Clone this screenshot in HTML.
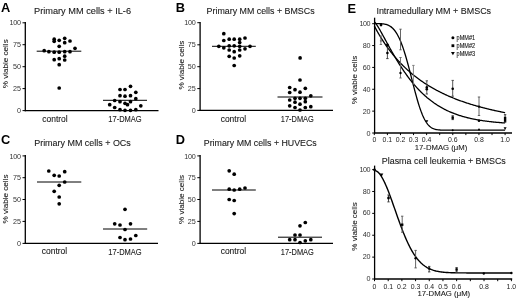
<!DOCTYPE html>
<html><head><meta charset="utf-8"><style>
html,body{margin:0;padding:0;background:#fff;width:520px;height:299px;overflow:hidden}
svg{display:block;will-change:transform;filter:blur(0.3px)}
text{font-family:"Liberation Sans", sans-serif} .s{stroke:#222;stroke-width:0.25px} .s2{stroke:#222;stroke-width:0.2px} .s3{stroke:#1a1a1a;stroke-width:0.1px}
</style></head><body>
<svg width="520" height="299" viewBox="0 0 520 299">
<rect width="520" height="299" fill="#fff"/>
<text x="0.90" y="12.40" font-size="12.8" text-anchor="start" fill="#000" font-weight="bold">A</text>
<text x="34.00" y="14.20" font-size="8.8" text-anchor="start" fill="#1a1a1a" class="s3" textLength="97" lengthAdjust="spacingAndGlyphs">Primary MM cells + IL-6</text>
<line x1="25.30" y1="22.00" x2="25.30" y2="111.20" stroke="#000" stroke-width="1.3"/>
<line x1="24.70" y1="110.60" x2="158.50" y2="110.60" stroke="#000" stroke-width="1.3"/>
<line x1="22.50" y1="22.80" x2="25.30" y2="22.80" stroke="#000" stroke-width="1.0"/>
<text x="20.90" y="25.40" font-size="7.2" text-anchor="end" fill="#333" textLength="11.4" lengthAdjust="spacing">100</text>
<line x1="22.50" y1="44.70" x2="25.30" y2="44.70" stroke="#000" stroke-width="1.0"/>
<text x="20.90" y="47.30" font-size="7.2" text-anchor="end" fill="#333" textLength="7.9" lengthAdjust="spacing">75</text>
<line x1="22.50" y1="66.70" x2="25.30" y2="66.70" stroke="#000" stroke-width="1.0"/>
<text x="20.90" y="69.30" font-size="7.2" text-anchor="end" fill="#333" textLength="7.9" lengthAdjust="spacing">50</text>
<line x1="22.50" y1="88.60" x2="25.30" y2="88.60" stroke="#000" stroke-width="1.0"/>
<text x="20.90" y="91.20" font-size="7.2" text-anchor="end" fill="#333" textLength="7.9" lengthAdjust="spacing">25</text>
<line x1="22.50" y1="110.60" x2="25.30" y2="110.60" stroke="#000" stroke-width="1.0"/>
<text x="20.90" y="113.20" font-size="7.2" text-anchor="end" fill="#333" textLength="3.9" lengthAdjust="spacing">0</text>
<text x="7.70" y="63.80" font-size="7.8" text-anchor="middle" fill="#222" class="s3" textLength="49" lengthAdjust="spacingAndGlyphs" transform="rotate(-90 7.70 63.80)">% viable cells</text>
<circle cx="54.20" cy="39.20" r="1.85" fill="#000"/>
<circle cx="54.20" cy="41.30" r="1.85" fill="#000"/>
<circle cx="59.20" cy="40.30" r="1.85" fill="#000"/>
<circle cx="64.70" cy="38.30" r="1.85" fill="#000"/>
<circle cx="64.70" cy="42.70" r="1.85" fill="#000"/>
<circle cx="70.00" cy="41.00" r="1.85" fill="#000"/>
<circle cx="59.20" cy="46.30" r="1.85" fill="#000"/>
<circle cx="75.00" cy="48.30" r="1.85" fill="#000"/>
<circle cx="44.20" cy="50.70" r="1.85" fill="#000"/>
<circle cx="48.90" cy="51.70" r="1.85" fill="#000"/>
<circle cx="54.20" cy="52.20" r="1.85" fill="#000"/>
<circle cx="59.20" cy="52.20" r="1.85" fill="#000"/>
<circle cx="64.70" cy="51.70" r="1.85" fill="#000"/>
<circle cx="70.00" cy="51.70" r="1.85" fill="#000"/>
<circle cx="64.70" cy="56.20" r="1.85" fill="#000"/>
<circle cx="54.20" cy="59.70" r="1.85" fill="#000"/>
<circle cx="59.20" cy="58.70" r="1.85" fill="#000"/>
<circle cx="64.70" cy="60.00" r="1.85" fill="#000"/>
<circle cx="59.20" cy="64.70" r="1.85" fill="#000"/>
<circle cx="59.20" cy="88.00" r="1.85" fill="#000"/>
<circle cx="130.50" cy="86.30" r="1.85" fill="#000"/>
<circle cx="120.00" cy="89.50" r="1.85" fill="#000"/>
<circle cx="125.00" cy="89.50" r="1.85" fill="#000"/>
<circle cx="135.80" cy="92.30" r="1.85" fill="#000"/>
<circle cx="120.00" cy="95.70" r="1.85" fill="#000"/>
<circle cx="125.00" cy="96.20" r="1.85" fill="#000"/>
<circle cx="130.50" cy="95.70" r="1.85" fill="#000"/>
<circle cx="135.80" cy="98.70" r="1.85" fill="#000"/>
<circle cx="114.70" cy="100.50" r="1.85" fill="#000"/>
<circle cx="120.00" cy="101.70" r="1.85" fill="#000"/>
<circle cx="125.00" cy="103.30" r="1.85" fill="#000"/>
<circle cx="130.50" cy="101.70" r="1.85" fill="#000"/>
<circle cx="127.50" cy="104.70" r="1.85" fill="#000"/>
<circle cx="109.70" cy="104.70" r="1.85" fill="#000"/>
<circle cx="140.80" cy="105.80" r="1.85" fill="#000"/>
<circle cx="114.70" cy="107.50" r="1.85" fill="#000"/>
<circle cx="120.00" cy="109.70" r="1.85" fill="#000"/>
<circle cx="125.00" cy="110.30" r="1.85" fill="#000"/>
<circle cx="130.50" cy="110.30" r="1.85" fill="#000"/>
<circle cx="135.80" cy="109.70" r="1.85" fill="#000"/>
<line x1="36.70" y1="51.20" x2="81.30" y2="51.20" stroke="#000" stroke-width="1.0"/>
<line x1="103.00" y1="100.30" x2="147.00" y2="100.30" stroke="#000" stroke-width="1.0"/>
<text x="55.00" y="122.10" font-size="8.6" text-anchor="middle" fill="#1a1a1a" class="s3" textLength="25.4" lengthAdjust="spacingAndGlyphs">control</text>
<text x="125.00" y="122.30" font-size="8.6" text-anchor="middle" fill="#1a1a1a" class="s3" textLength="33.4" lengthAdjust="spacingAndGlyphs">17-DMAG</text>
<text x="175.70" y="12.40" font-size="12.8" text-anchor="start" fill="#000" font-weight="bold">B</text>
<text x="206.60" y="14.20" font-size="8.8" text-anchor="start" fill="#1a1a1a" class="s3" textLength="108" lengthAdjust="spacingAndGlyphs">Primary MM cells + BMSCs</text>
<line x1="200.10" y1="21.90" x2="200.10" y2="111.00" stroke="#000" stroke-width="1.3"/>
<line x1="199.50" y1="110.40" x2="333.00" y2="110.40" stroke="#000" stroke-width="1.3"/>
<line x1="197.30" y1="22.70" x2="200.10" y2="22.70" stroke="#000" stroke-width="1.0"/>
<text x="195.70" y="25.30" font-size="7.2" text-anchor="end" fill="#333" textLength="11.4" lengthAdjust="spacing">100</text>
<line x1="197.30" y1="44.80" x2="200.10" y2="44.80" stroke="#000" stroke-width="1.0"/>
<text x="195.70" y="47.40" font-size="7.2" text-anchor="end" fill="#333" textLength="7.9" lengthAdjust="spacing">75</text>
<line x1="197.30" y1="66.70" x2="200.10" y2="66.70" stroke="#000" stroke-width="1.0"/>
<text x="195.70" y="69.30" font-size="7.2" text-anchor="end" fill="#333" textLength="7.9" lengthAdjust="spacing">50</text>
<line x1="197.30" y1="88.60" x2="200.10" y2="88.60" stroke="#000" stroke-width="1.0"/>
<text x="195.70" y="91.20" font-size="7.2" text-anchor="end" fill="#333" textLength="7.9" lengthAdjust="spacing">25</text>
<line x1="197.30" y1="110.40" x2="200.10" y2="110.40" stroke="#000" stroke-width="1.0"/>
<text x="195.70" y="113.00" font-size="7.2" text-anchor="end" fill="#333" textLength="3.9" lengthAdjust="spacing">0</text>
<text x="184.00" y="65.10" font-size="7.8" text-anchor="middle" fill="#222" class="s3" textLength="49" lengthAdjust="spacingAndGlyphs" transform="rotate(-90 184.00 65.10)">% viable cells</text>
<circle cx="223.80" cy="33.70" r="1.85" fill="#000"/>
<circle cx="223.80" cy="40.50" r="1.85" fill="#000"/>
<circle cx="229.20" cy="39.20" r="1.85" fill="#000"/>
<circle cx="234.20" cy="39.20" r="1.85" fill="#000"/>
<circle cx="239.70" cy="39.20" r="1.85" fill="#000"/>
<circle cx="245.00" cy="38.00" r="1.85" fill="#000"/>
<circle cx="239.70" cy="42.50" r="1.85" fill="#000"/>
<circle cx="218.80" cy="46.30" r="1.85" fill="#000"/>
<circle cx="223.80" cy="47.80" r="1.85" fill="#000"/>
<circle cx="229.20" cy="45.80" r="1.85" fill="#000"/>
<circle cx="234.20" cy="45.80" r="1.85" fill="#000"/>
<circle cx="239.70" cy="46.30" r="1.85" fill="#000"/>
<circle cx="245.00" cy="48.80" r="1.85" fill="#000"/>
<circle cx="250.00" cy="46.30" r="1.85" fill="#000"/>
<circle cx="229.20" cy="50.00" r="1.85" fill="#000"/>
<circle cx="234.20" cy="51.70" r="1.85" fill="#000"/>
<circle cx="239.70" cy="50.00" r="1.85" fill="#000"/>
<circle cx="229.20" cy="56.30" r="1.85" fill="#000"/>
<circle cx="234.20" cy="58.00" r="1.85" fill="#000"/>
<circle cx="239.70" cy="55.80" r="1.85" fill="#000"/>
<circle cx="234.20" cy="65.50" r="1.85" fill="#000"/>
<circle cx="300.10" cy="57.90" r="1.85" fill="#000"/>
<circle cx="300.00" cy="80.00" r="1.85" fill="#000"/>
<circle cx="289.70" cy="87.50" r="1.85" fill="#000"/>
<circle cx="295.00" cy="89.70" r="1.85" fill="#000"/>
<circle cx="305.30" cy="88.30" r="1.85" fill="#000"/>
<circle cx="289.70" cy="92.50" r="1.85" fill="#000"/>
<circle cx="300.00" cy="92.20" r="1.85" fill="#000"/>
<circle cx="310.80" cy="95.80" r="1.85" fill="#000"/>
<circle cx="295.00" cy="98.30" r="1.85" fill="#000"/>
<circle cx="300.00" cy="98.30" r="1.85" fill="#000"/>
<circle cx="305.30" cy="98.30" r="1.85" fill="#000"/>
<circle cx="289.70" cy="100.00" r="1.85" fill="#000"/>
<circle cx="295.00" cy="102.20" r="1.85" fill="#000"/>
<circle cx="305.30" cy="101.70" r="1.85" fill="#000"/>
<circle cx="300.00" cy="104.20" r="1.85" fill="#000"/>
<circle cx="289.70" cy="105.80" r="1.85" fill="#000"/>
<circle cx="295.00" cy="107.50" r="1.85" fill="#000"/>
<circle cx="305.30" cy="107.50" r="1.85" fill="#000"/>
<circle cx="310.80" cy="106.70" r="1.85" fill="#000"/>
<circle cx="300.00" cy="110.00" r="1.85" fill="#000"/>
<line x1="212.00" y1="46.30" x2="255.80" y2="46.30" stroke="#000" stroke-width="1.0"/>
<line x1="277.50" y1="97.00" x2="322.50" y2="97.00" stroke="#000" stroke-width="1.0"/>
<text x="233.40" y="121.70" font-size="8.6" text-anchor="middle" fill="#1a1a1a" class="s3" textLength="25.4" lengthAdjust="spacingAndGlyphs">control</text>
<text x="297.30" y="121.70" font-size="8.6" text-anchor="middle" fill="#1a1a1a" class="s3" textLength="33" lengthAdjust="spacingAndGlyphs">17-DMAG</text>
<text x="0.90" y="143.80" font-size="12.8" text-anchor="start" fill="#000" font-weight="bold">C</text>
<text x="34.20" y="145.60" font-size="8.8" text-anchor="start" fill="#1a1a1a" class="s3" textLength="96.6" lengthAdjust="spacingAndGlyphs">Primary MM cells + OCs</text>
<line x1="25.30" y1="155.10" x2="25.30" y2="244.00" stroke="#000" stroke-width="1.3"/>
<line x1="24.70" y1="243.40" x2="158.00" y2="243.40" stroke="#000" stroke-width="1.3"/>
<line x1="22.50" y1="155.90" x2="25.30" y2="155.90" stroke="#000" stroke-width="1.0"/>
<text x="20.90" y="158.50" font-size="7.2" text-anchor="end" fill="#333" textLength="11.4" lengthAdjust="spacing">100</text>
<line x1="22.50" y1="177.70" x2="25.30" y2="177.70" stroke="#000" stroke-width="1.0"/>
<text x="20.90" y="180.30" font-size="7.2" text-anchor="end" fill="#333" textLength="7.9" lengthAdjust="spacing">75</text>
<line x1="22.50" y1="199.50" x2="25.30" y2="199.50" stroke="#000" stroke-width="1.0"/>
<text x="20.90" y="202.10" font-size="7.2" text-anchor="end" fill="#333" textLength="7.9" lengthAdjust="spacing">50</text>
<line x1="22.50" y1="221.40" x2="25.30" y2="221.40" stroke="#000" stroke-width="1.0"/>
<text x="20.90" y="224.00" font-size="7.2" text-anchor="end" fill="#333" textLength="7.9" lengthAdjust="spacing">25</text>
<line x1="22.50" y1="243.40" x2="25.30" y2="243.40" stroke="#000" stroke-width="1.0"/>
<text x="20.90" y="246.00" font-size="7.2" text-anchor="end" fill="#333" textLength="3.9" lengthAdjust="spacing">0</text>
<text x="7.70" y="199.00" font-size="7.8" text-anchor="middle" fill="#222" class="s3" textLength="49" lengthAdjust="spacingAndGlyphs" transform="rotate(-90 7.70 199.00)">% viable cells</text>
<circle cx="48.80" cy="171.00" r="1.85" fill="#000"/>
<circle cx="54.20" cy="175.30" r="1.85" fill="#000"/>
<circle cx="59.20" cy="176.00" r="1.85" fill="#000"/>
<circle cx="64.70" cy="171.70" r="1.85" fill="#000"/>
<circle cx="64.70" cy="182.00" r="1.85" fill="#000"/>
<circle cx="59.20" cy="185.30" r="1.85" fill="#000"/>
<circle cx="54.20" cy="191.30" r="1.85" fill="#000"/>
<circle cx="59.20" cy="197.00" r="1.85" fill="#000"/>
<circle cx="59.20" cy="203.80" r="1.85" fill="#000"/>
<circle cx="125.00" cy="209.30" r="1.85" fill="#000"/>
<circle cx="114.70" cy="223.80" r="1.85" fill="#000"/>
<circle cx="120.00" cy="225.00" r="1.85" fill="#000"/>
<circle cx="130.50" cy="223.80" r="1.85" fill="#000"/>
<circle cx="125.00" cy="229.50" r="1.85" fill="#000"/>
<circle cx="120.00" cy="237.50" r="1.85" fill="#000"/>
<circle cx="125.00" cy="239.70" r="1.85" fill="#000"/>
<circle cx="130.50" cy="239.00" r="1.85" fill="#000"/>
<circle cx="135.80" cy="235.50" r="1.85" fill="#000"/>
<line x1="37.00" y1="182.00" x2="81.30" y2="182.00" stroke="#000" stroke-width="1.0"/>
<line x1="103.00" y1="229.00" x2="147.20" y2="229.00" stroke="#000" stroke-width="1.0"/>
<text x="54.50" y="253.80" font-size="8.6" text-anchor="middle" fill="#1a1a1a" class="s3" textLength="25.4" lengthAdjust="spacingAndGlyphs">control</text>
<text x="125.00" y="254.60" font-size="8.6" text-anchor="middle" fill="#1a1a1a" class="s3" textLength="33.4" lengthAdjust="spacingAndGlyphs">17-DMAG</text>
<text x="175.70" y="143.80" font-size="12.8" text-anchor="start" fill="#000" font-weight="bold">D</text>
<text x="203.80" y="145.60" font-size="8.8" text-anchor="start" fill="#1a1a1a" class="s3" textLength="113" lengthAdjust="spacingAndGlyphs">Primary MM cells + HUVECs</text>
<line x1="200.10" y1="155.10" x2="200.10" y2="244.00" stroke="#000" stroke-width="1.3"/>
<line x1="199.50" y1="243.40" x2="333.00" y2="243.40" stroke="#000" stroke-width="1.3"/>
<line x1="197.30" y1="155.90" x2="200.10" y2="155.90" stroke="#000" stroke-width="1.0"/>
<text x="195.70" y="158.50" font-size="7.2" text-anchor="end" fill="#333" textLength="11.4" lengthAdjust="spacing">100</text>
<line x1="197.30" y1="177.70" x2="200.10" y2="177.70" stroke="#000" stroke-width="1.0"/>
<text x="195.70" y="180.30" font-size="7.2" text-anchor="end" fill="#333" textLength="7.9" lengthAdjust="spacing">75</text>
<line x1="197.30" y1="199.50" x2="200.10" y2="199.50" stroke="#000" stroke-width="1.0"/>
<text x="195.70" y="202.10" font-size="7.2" text-anchor="end" fill="#333" textLength="7.9" lengthAdjust="spacing">50</text>
<line x1="197.30" y1="221.40" x2="200.10" y2="221.40" stroke="#000" stroke-width="1.0"/>
<text x="195.70" y="224.00" font-size="7.2" text-anchor="end" fill="#333" textLength="7.9" lengthAdjust="spacing">25</text>
<line x1="197.30" y1="243.40" x2="200.10" y2="243.40" stroke="#000" stroke-width="1.0"/>
<text x="195.70" y="246.00" font-size="7.2" text-anchor="end" fill="#333" textLength="3.9" lengthAdjust="spacing">0</text>
<text x="184.00" y="199.50" font-size="7.8" text-anchor="middle" fill="#222" class="s3" textLength="49" lengthAdjust="spacingAndGlyphs" transform="rotate(-90 184.00 199.50)">% viable cells</text>
<circle cx="229.20" cy="170.80" r="1.85" fill="#000"/>
<circle cx="234.20" cy="174.20" r="1.85" fill="#000"/>
<circle cx="229.20" cy="189.20" r="1.85" fill="#000"/>
<circle cx="234.20" cy="190.00" r="1.85" fill="#000"/>
<circle cx="239.70" cy="189.20" r="1.85" fill="#000"/>
<circle cx="245.00" cy="188.00" r="1.85" fill="#000"/>
<circle cx="229.20" cy="199.50" r="1.85" fill="#000"/>
<circle cx="234.20" cy="200.50" r="1.85" fill="#000"/>
<circle cx="234.20" cy="213.60" r="1.85" fill="#000"/>
<circle cx="305.30" cy="222.50" r="1.85" fill="#000"/>
<circle cx="300.00" cy="225.80" r="1.85" fill="#000"/>
<circle cx="295.00" cy="235.00" r="1.85" fill="#000"/>
<circle cx="300.00" cy="235.00" r="1.85" fill="#000"/>
<circle cx="289.70" cy="239.70" r="1.85" fill="#000"/>
<circle cx="295.00" cy="239.70" r="1.85" fill="#000"/>
<circle cx="305.30" cy="240.80" r="1.85" fill="#000"/>
<circle cx="310.80" cy="239.70" r="1.85" fill="#000"/>
<circle cx="300.00" cy="242.50" r="1.85" fill="#000"/>
<line x1="212.00" y1="190.00" x2="255.80" y2="190.00" stroke="#000" stroke-width="1.0"/>
<line x1="278.00" y1="237.20" x2="322.00" y2="237.20" stroke="#000" stroke-width="1.0"/>
<text x="233.40" y="253.50" font-size="8.6" text-anchor="middle" fill="#1a1a1a" class="s3" textLength="25.4" lengthAdjust="spacingAndGlyphs">control</text>
<text x="297.30" y="254.60" font-size="8.6" text-anchor="middle" fill="#1a1a1a" class="s3" textLength="33" lengthAdjust="spacingAndGlyphs">17-DMAG</text>
<text x="347.60" y="12.60" font-size="12.8" text-anchor="start" fill="#000" font-weight="bold">E</text>
<text x="376.40" y="13.90" font-size="8.8" text-anchor="start" fill="#1a1a1a" class="s3" textLength="114.7" lengthAdjust="spacingAndGlyphs">Intramedullary MM + BMSCs</text>
<line x1="374.60" y1="17.70" x2="374.60" y2="133.20" stroke="#000" stroke-width="1.3"/>
<line x1="374.00" y1="133.00" x2="512.00" y2="133.00" stroke="#000" stroke-width="1.3"/>
<line x1="372.20" y1="133.00" x2="374.60" y2="133.00" stroke="#000" stroke-width="1.0"/>
<text x="370.50" y="135.60" font-size="7.2" text-anchor="end" fill="#333" textLength="3.9" lengthAdjust="spacing">0</text>
<line x1="372.20" y1="111.14" x2="374.60" y2="111.14" stroke="#000" stroke-width="1.0"/>
<text x="370.50" y="113.74" font-size="7.2" text-anchor="end" fill="#333" textLength="7.7" lengthAdjust="spacing">20</text>
<line x1="372.20" y1="89.28" x2="374.60" y2="89.28" stroke="#000" stroke-width="1.0"/>
<text x="370.50" y="91.88" font-size="7.2" text-anchor="end" fill="#333" textLength="7.7" lengthAdjust="spacing">40</text>
<line x1="372.20" y1="67.42" x2="374.60" y2="67.42" stroke="#000" stroke-width="1.0"/>
<text x="370.50" y="70.02" font-size="7.2" text-anchor="end" fill="#333" textLength="7.7" lengthAdjust="spacing">60</text>
<line x1="372.20" y1="45.56" x2="374.60" y2="45.56" stroke="#000" stroke-width="1.0"/>
<text x="370.50" y="48.16" font-size="7.2" text-anchor="end" fill="#333" textLength="7.7" lengthAdjust="spacing">80</text>
<line x1="372.20" y1="23.70" x2="374.60" y2="23.70" stroke="#000" stroke-width="1.0"/>
<text x="370.50" y="26.30" font-size="7.2" text-anchor="end" fill="#333" textLength="10.9" lengthAdjust="spacing">100</text>
<line x1="374.30" y1="133.00" x2="374.30" y2="135.10" stroke="#000" stroke-width="1.0"/>
<line x1="387.38" y1="133.00" x2="387.38" y2="135.10" stroke="#000" stroke-width="1.0"/>
<line x1="400.46" y1="133.00" x2="400.46" y2="135.10" stroke="#000" stroke-width="1.0"/>
<line x1="413.54" y1="133.00" x2="413.54" y2="135.10" stroke="#000" stroke-width="1.0"/>
<line x1="426.62" y1="133.00" x2="426.62" y2="135.10" stroke="#000" stroke-width="1.0"/>
<line x1="439.70" y1="133.00" x2="439.70" y2="135.10" stroke="#000" stroke-width="1.0"/>
<line x1="452.78" y1="133.00" x2="452.78" y2="135.10" stroke="#000" stroke-width="1.0"/>
<line x1="465.86" y1="133.00" x2="465.86" y2="135.10" stroke="#000" stroke-width="1.0"/>
<line x1="478.94" y1="133.00" x2="478.94" y2="135.10" stroke="#000" stroke-width="1.0"/>
<line x1="492.02" y1="133.00" x2="492.02" y2="135.10" stroke="#000" stroke-width="1.0"/>
<line x1="505.10" y1="133.00" x2="505.10" y2="135.10" stroke="#000" stroke-width="1.0"/>
<text x="374.30" y="142.10" font-size="6.9" text-anchor="middle" fill="#222">0</text>
<text x="387.38" y="142.10" font-size="6.9" text-anchor="middle" fill="#222">0.1</text>
<text x="400.46" y="142.10" font-size="6.9" text-anchor="middle" fill="#222">0.2</text>
<text x="413.54" y="142.10" font-size="6.9" text-anchor="middle" fill="#222">0.3</text>
<text x="426.62" y="142.10" font-size="6.9" text-anchor="middle" fill="#222">0.4</text>
<text x="452.78" y="142.10" font-size="6.9" text-anchor="middle" fill="#222">0.6</text>
<text x="478.94" y="142.10" font-size="6.9" text-anchor="middle" fill="#222">0.8</text>
<text x="505.10" y="142.10" font-size="6.9" text-anchor="middle" fill="#222">1.0</text>
<text x="441.00" y="149.80" font-size="8.0" text-anchor="middle" fill="#1a1a1a" class="s3" textLength="52.5" lengthAdjust="spacingAndGlyphs">17-DMAG (μM)</text>
<text x="356.60" y="80.00" font-size="7.8" text-anchor="middle" fill="#222" class="s3" textLength="48.5" lengthAdjust="spacingAndGlyphs" transform="rotate(-90 356.60 80.00)">% viable cells</text>
<path d="M374.30,23.65 L374.96,23.65 L375.61,23.65 L376.27,23.66 L376.93,23.66 L377.59,23.66 L378.24,23.67 L378.90,23.67 L379.56,23.69 L380.22,23.71 L380.87,23.74 L381.53,23.77 L382.19,23.82 L382.84,23.88 L383.50,23.96 L384.16,24.06 L384.82,24.17 L385.47,24.31 L386.13,24.48 L386.79,24.67 L387.45,24.90 L388.10,25.16 L388.76,25.47 L389.42,25.81 L390.07,26.20 L390.73,26.64 L391.39,27.13 L392.05,27.68 L392.70,28.29 L393.36,28.96 L394.02,29.69 L394.68,30.50 L395.33,31.38 L395.99,32.34 L396.65,33.37 L397.31,34.49 L397.96,35.68 L398.62,36.97 L399.28,38.34 L399.93,39.80 L400.59,41.34 L401.25,42.97 L401.91,44.70 L402.56,46.50 L403.22,48.40 L403.88,50.37 L404.54,52.43 L405.19,54.56 L405.85,56.76 L406.51,59.04 L407.16,61.37 L407.82,63.76 L408.48,66.20 L409.14,68.69 L409.79,71.21 L410.45,73.75 L411.11,76.32 L411.77,78.89 L412.42,81.47 L413.08,84.03 L413.74,86.58 L414.39,89.11 L415.05,91.60 L415.71,94.04 L416.37,96.43 L417.02,98.76 L417.68,101.03 L418.34,103.22 L419.00,105.33 L419.65,107.35 L420.31,109.28 L420.97,111.12 L421.62,112.86 L422.28,114.50 L422.94,116.04 L423.60,117.48 L424.25,118.82 L424.91,120.06 L425.57,121.21 L426.23,122.25 L426.88,123.21 L427.54,124.08 L428.20,124.86 L428.85,125.57 L429.51,126.20 L430.17,126.76 L430.83,127.26 L431.48,127.69 L432.14,128.07 L432.80,128.41 L433.46,128.70 L434.11,128.95 L434.77,129.16 L435.43,129.34 L436.08,129.49 L436.74,129.62 L437.40,129.73 L438.06,129.82 L438.71,129.90 L439.37,129.96 L440.03,130.01 L440.69,130.05 L441.34,130.08 L442.00,130.11 L442.66,130.13 L443.32,130.14 L443.97,130.16 L444.63,130.17 L445.29,130.18 L445.94,130.18 L446.60,130.19 L447.26,130.19 L447.92,130.19 L448.57,130.20 L449.23,130.20 L449.89,130.20 L450.55,130.20 L451.20,130.20 L451.86,130.20 L452.52,130.20 L453.17,130.20 L453.83,130.20 L454.49,130.20 L455.15,130.20 L455.80,130.20 L456.46,130.20 L457.12,130.20 L457.78,130.20 L458.43,130.20 L459.09,130.20 L459.75,130.20 L460.40,130.20 L461.06,130.20 L461.72,130.20 L462.38,130.20 L463.03,130.20 L463.69,130.20 L464.35,130.20 L465.01,130.20 L465.66,130.20 L466.32,130.20 L466.98,130.20 L467.63,130.20 L468.29,130.20 L468.95,130.20 L469.61,130.20 L470.26,130.20 L470.92,130.20 L471.58,130.20 L472.24,130.20 L472.89,130.20 L473.55,130.20 L474.21,130.20 L474.86,130.20 L475.52,130.20 L476.18,130.20 L476.84,130.20 L477.49,130.20 L478.15,130.20 L478.81,130.20 L479.47,130.20 L480.12,130.20 L480.78,130.20 L481.44,130.20 L482.09,130.20 L482.75,130.20 L483.41,130.20 L484.07,130.20 L484.72,130.20 L485.38,130.20 L486.04,130.20 L486.70,130.20 L487.35,130.20 L488.01,130.20 L488.67,130.20 L489.33,130.20 L489.98,130.20 L490.64,130.20 L491.30,130.20 L491.95,130.20 L492.61,130.20 L493.27,130.20 L493.93,130.20 L494.58,130.20 L495.24,130.20 L495.90,130.20 L496.56,130.20 L497.21,130.20 L497.87,130.20 L498.53,130.20 L499.18,130.20 L499.84,130.20 L500.50,130.20 L501.16,130.20 L501.81,130.20 L502.47,130.20 L503.13,130.20 L503.79,130.20 L504.44,130.20 L505.10,130.20" fill="none" stroke="#000" stroke-width="1.3"/>
<path d="M374.30,25.79 L374.96,27.12 L375.61,28.39 L376.27,29.62 L376.93,30.83 L377.59,32.00 L378.24,33.16 L378.90,34.29 L379.56,35.41 L380.22,36.50 L380.87,37.57 L381.53,38.63 L382.19,39.67 L382.84,40.69 L383.50,41.70 L384.16,42.69 L384.82,43.66 L385.47,44.62 L386.13,45.57 L386.79,46.50 L387.45,47.41 L388.10,48.32 L388.76,49.20 L389.42,50.08 L390.07,50.94 L390.73,51.79 L391.39,52.63 L392.05,53.46 L392.70,54.27 L393.36,55.07 L394.02,55.87 L394.68,56.65 L395.33,57.42 L395.99,58.17 L396.65,58.92 L397.31,59.66 L397.96,60.39 L398.62,61.11 L399.28,61.81 L399.93,62.51 L400.59,63.20 L401.25,63.88 L401.91,64.55 L402.56,65.21 L403.22,65.87 L403.88,66.51 L404.54,67.15 L405.19,67.78 L405.85,68.39 L406.51,69.01 L407.16,69.61 L407.82,70.21 L408.48,70.79 L409.14,71.38 L409.79,71.95 L410.45,72.51 L411.11,73.07 L411.77,73.63 L412.42,74.17 L413.08,74.71 L413.74,75.24 L414.39,75.77 L415.05,76.28 L415.71,76.80 L416.37,77.30 L417.02,77.80 L417.68,78.30 L418.34,78.78 L419.00,79.27 L419.65,79.74 L420.31,80.21 L420.97,80.68 L421.62,81.13 L422.28,81.59 L422.94,82.04 L423.60,82.48 L424.25,82.92 L424.91,83.35 L425.57,83.78 L426.23,84.20 L426.88,84.62 L427.54,85.03 L428.20,85.44 L428.85,85.84 L429.51,86.24 L430.17,86.63 L430.83,87.02 L431.48,87.41 L432.14,87.79 L432.80,88.17 L433.46,88.54 L434.11,88.91 L434.77,89.27 L435.43,89.63 L436.08,89.98 L436.74,90.34 L437.40,90.68 L438.06,91.03 L438.71,91.37 L439.37,91.70 L440.03,92.04 L440.69,92.37 L441.34,92.69 L442.00,93.01 L442.66,93.33 L443.32,93.65 L443.97,93.96 L444.63,94.27 L445.29,94.57 L445.94,94.87 L446.60,95.17 L447.26,95.47 L447.92,95.76 L448.57,96.05 L449.23,96.34 L449.89,96.62 L450.55,96.90 L451.20,97.18 L451.86,97.45 L452.52,97.72 L453.17,97.99 L453.83,98.25 L454.49,98.52 L455.15,98.78 L455.80,99.04 L456.46,99.29 L457.12,99.54 L457.78,99.79 L458.43,100.04 L459.09,100.28 L459.75,100.53 L460.40,100.77 L461.06,101.00 L461.72,101.24 L462.38,101.47 L463.03,101.70 L463.69,101.93 L464.35,102.16 L465.01,102.38 L465.66,102.60 L466.32,102.82 L466.98,103.04 L467.63,103.25 L468.29,103.46 L468.95,103.67 L469.61,103.88 L470.26,104.09 L470.92,104.29 L471.58,104.50 L472.24,104.70 L472.89,104.89 L473.55,105.09 L474.21,105.29 L474.86,105.48 L475.52,105.67 L476.18,105.86 L476.84,106.05 L477.49,106.23 L478.15,106.42 L478.81,106.60 L479.47,106.78 L480.12,106.96 L480.78,107.13 L481.44,107.31 L482.09,107.48 L482.75,107.65 L483.41,107.83 L484.07,107.99 L484.72,108.16 L485.38,108.33 L486.04,108.49 L486.70,108.65 L487.35,108.82 L488.01,108.98 L488.67,109.13 L489.33,109.29 L489.98,109.45 L490.64,109.60 L491.30,109.75 L491.95,109.90 L492.61,110.05 L493.27,110.20 L493.93,110.35 L494.58,110.50 L495.24,110.64 L495.90,110.78 L496.56,110.93 L497.21,111.07 L497.87,111.21 L498.53,111.34 L499.18,111.48 L499.84,111.62 L500.50,111.75 L501.16,111.88 L501.81,112.02 L502.47,112.15 L503.13,112.28 L503.79,112.41 L504.44,112.53 L505.10,112.66" fill="none" stroke="#000" stroke-width="1.3"/>
<path d="M374.30,21.71 L374.96,22.32 L375.61,23.14 L376.27,24.06 L376.93,25.04 L377.59,26.08 L378.24,27.15 L378.90,28.26 L379.56,29.39 L380.22,30.53 L380.87,31.70 L381.53,32.88 L382.19,34.06 L382.84,35.26 L383.50,36.46 L384.16,37.66 L384.82,38.87 L385.47,40.08 L386.13,41.28 L386.79,42.49 L387.45,43.69 L388.10,44.89 L388.76,46.08 L389.42,47.27 L390.07,48.45 L390.73,49.63 L391.39,50.79 L392.05,51.95 L392.70,53.11 L393.36,54.25 L394.02,55.38 L394.68,56.51 L395.33,57.62 L395.99,58.73 L396.65,59.82 L397.31,60.90 L397.96,61.97 L398.62,63.04 L399.28,64.08 L399.93,65.12 L400.59,66.15 L401.25,67.16 L401.91,68.16 L402.56,69.16 L403.22,70.13 L403.88,71.10 L404.54,72.05 L405.19,73.00 L405.85,73.92 L406.51,74.84 L407.16,75.75 L407.82,76.64 L408.48,77.52 L409.14,78.39 L409.79,79.24 L410.45,80.09 L411.11,80.92 L411.77,81.74 L412.42,82.54 L413.08,83.34 L413.74,84.12 L414.39,84.89 L415.05,85.65 L415.71,86.40 L416.37,87.14 L417.02,87.86 L417.68,88.58 L418.34,89.28 L419.00,89.97 L419.65,90.65 L420.31,91.32 L420.97,91.97 L421.62,92.62 L422.28,93.26 L422.94,93.88 L423.60,94.50 L424.25,95.10 L424.91,95.70 L425.57,96.28 L426.23,96.85 L426.88,97.42 L427.54,97.97 L428.20,98.52 L428.85,99.05 L429.51,99.58 L430.17,100.09 L430.83,100.60 L431.48,101.10 L432.14,101.58 L432.80,102.06 L433.46,102.53 L434.11,103.00 L434.77,103.45 L435.43,103.90 L436.08,104.33 L436.74,104.76 L437.40,105.18 L438.06,105.60 L438.71,106.00 L439.37,106.40 L440.03,106.79 L440.69,107.17 L441.34,107.55 L442.00,107.92 L442.66,108.28 L443.32,108.63 L443.97,108.98 L444.63,109.32 L445.29,109.65 L445.94,109.98 L446.60,110.30 L447.26,110.62 L447.92,110.92 L448.57,111.23 L449.23,111.52 L449.89,111.81 L450.55,112.10 L451.20,112.38 L451.86,112.65 L452.52,112.92 L453.17,113.18 L453.83,113.43 L454.49,113.69 L455.15,113.93 L455.80,114.17 L456.46,114.41 L457.12,114.64 L457.78,114.87 L458.43,115.09 L459.09,115.31 L459.75,115.52 L460.40,115.73 L461.06,115.93 L461.72,116.13 L462.38,116.33 L463.03,116.52 L463.69,116.71 L464.35,116.89 L465.01,117.07 L465.66,117.24 L466.32,117.41 L466.98,117.58 L467.63,117.75 L468.29,117.91 L468.95,118.07 L469.61,118.22 L470.26,118.37 L470.92,118.52 L471.58,118.66 L472.24,118.80 L472.89,118.94 L473.55,119.08 L474.21,119.21 L474.86,119.34 L475.52,119.46 L476.18,119.59 L476.84,119.71 L477.49,119.82 L478.15,119.94 L478.81,120.05 L479.47,120.16 L480.12,120.27 L480.78,120.38 L481.44,120.48 L482.09,120.58 L482.75,120.68 L483.41,120.77 L484.07,120.87 L484.72,120.96 L485.38,121.05 L486.04,121.14 L486.70,121.22 L487.35,121.31 L488.01,121.39 L488.67,121.47 L489.33,121.55 L489.98,121.62 L490.64,121.70 L491.30,121.77 L491.95,121.84 L492.61,121.91 L493.27,121.98 L493.93,122.05 L494.58,122.11 L495.24,122.17 L495.90,122.24 L496.56,122.30 L497.21,122.35 L497.87,122.41 L498.53,122.47 L499.18,122.52 L499.84,122.58 L500.50,122.63 L501.16,122.68 L501.81,122.73 L502.47,122.78 L503.13,122.83 L503.79,122.87 L504.44,122.92 L505.10,122.96" fill="none" stroke="#000" stroke-width="1.3"/>
<line x1="380.90" y1="36.00" x2="380.90" y2="44.50" stroke="#666" stroke-width="0.9"/>
<line x1="379.70" y1="36.00" x2="382.10" y2="36.00" stroke="#666" stroke-width="0.9"/>
<line x1="379.70" y1="44.50" x2="382.10" y2="44.50" stroke="#666" stroke-width="0.9"/>
<line x1="387.40" y1="45.00" x2="387.40" y2="58.60" stroke="#333" stroke-width="0.9"/>
<line x1="386.20" y1="45.00" x2="388.60" y2="45.00" stroke="#333" stroke-width="0.9"/>
<line x1="386.20" y1="58.60" x2="388.60" y2="58.60" stroke="#333" stroke-width="0.9"/>
<line x1="400.50" y1="29.20" x2="400.50" y2="49.80" stroke="#555" stroke-width="0.9"/>
<line x1="399.30" y1="29.20" x2="401.70" y2="29.20" stroke="#555" stroke-width="0.9"/>
<line x1="399.30" y1="49.80" x2="401.70" y2="49.80" stroke="#555" stroke-width="0.9"/>
<line x1="400.50" y1="57.50" x2="400.50" y2="78.00" stroke="#666" stroke-width="0.9"/>
<line x1="399.30" y1="57.50" x2="401.70" y2="57.50" stroke="#666" stroke-width="0.9"/>
<line x1="399.30" y1="78.00" x2="401.70" y2="78.00" stroke="#666" stroke-width="0.9"/>
<line x1="413.40" y1="65.40" x2="413.40" y2="84.00" stroke="#777" stroke-width="0.9"/>
<line x1="412.20" y1="65.40" x2="414.60" y2="65.40" stroke="#777" stroke-width="0.9"/>
<line x1="412.20" y1="84.00" x2="414.60" y2="84.00" stroke="#777" stroke-width="0.9"/>
<line x1="426.80" y1="80.80" x2="426.80" y2="94.00" stroke="#444" stroke-width="0.9"/>
<line x1="425.60" y1="80.80" x2="428.00" y2="80.80" stroke="#444" stroke-width="0.9"/>
<line x1="425.60" y1="94.00" x2="428.00" y2="94.00" stroke="#444" stroke-width="0.9"/>
<line x1="452.70" y1="80.40" x2="452.70" y2="96.20" stroke="#444" stroke-width="0.9"/>
<line x1="451.50" y1="80.40" x2="453.90" y2="80.40" stroke="#444" stroke-width="0.9"/>
<line x1="451.50" y1="96.20" x2="453.90" y2="96.20" stroke="#444" stroke-width="0.9"/>
<line x1="452.70" y1="115.80" x2="452.70" y2="119.60" stroke="#222" stroke-width="0.9"/>
<line x1="451.50" y1="115.80" x2="453.90" y2="115.80" stroke="#222" stroke-width="0.9"/>
<line x1="451.50" y1="119.60" x2="453.90" y2="119.60" stroke="#222" stroke-width="0.9"/>
<line x1="479.00" y1="97.00" x2="479.00" y2="115.50" stroke="#555" stroke-width="0.9"/>
<line x1="477.80" y1="97.00" x2="480.20" y2="97.00" stroke="#555" stroke-width="0.9"/>
<line x1="477.80" y1="115.50" x2="480.20" y2="115.50" stroke="#555" stroke-width="0.9"/>
<line x1="505.10" y1="114.70" x2="505.10" y2="122.20" stroke="#222" stroke-width="0.9"/>
<line x1="503.90" y1="114.70" x2="506.30" y2="114.70" stroke="#222" stroke-width="0.9"/>
<line x1="503.90" y1="122.20" x2="506.30" y2="122.20" stroke="#222" stroke-width="0.9"/>
<rect x="503.9" y="116.8" width="2.4" height="5.0" fill="#000"/>
<circle cx="381.00" cy="25.00" r="1.4" fill="#000"/>
<circle cx="380.90" cy="40.80" r="1.1" fill="#777"/>
<circle cx="387.40" cy="53.00" r="1.3" fill="#000"/>
<circle cx="387.40" cy="45.00" r="1.4" fill="#000"/>
<circle cx="400.50" cy="73.00" r="1.2" fill="#000"/>
<circle cx="426.80" cy="87.40" r="1.3" fill="#000"/>
<circle cx="426.80" cy="89.30" r="1.3" fill="#000"/>
<circle cx="452.70" cy="88.70" r="1.3" fill="#000"/>
<rect x="451.5" y="116.5" width="2.4" height="2.4" fill="#000"/>
<circle cx="479.00" cy="106.60" r="1.2" fill="#000"/>
<circle cx="479.00" cy="120.80" r="1.3" fill="#000"/>
<circle cx="452.70" cy="130.20" r="1.0" fill="#000"/>
<circle cx="479.00" cy="129.60" r="1.0" fill="#000"/>
<path d="M425.3,120.2 L428.3,120.2 L426.8,122.8Z" fill="#000"/>
<path d="M503.6,127.3 L506.6,127.3 L505.1,129.9Z" fill="#000"/>
<circle cx="452.90" cy="37.80" r="1.5" fill="#000"/>
<rect x="451.5" y="44.3" width="2.8" height="2.8" fill="#000"/>
<path d="M451.0,52.0 L454.8,52.0 L452.9,55.3Z" fill="#000"/>
<text x="456.60" y="39.90" font-size="6.3" text-anchor="start" fill="#111" class="s3" textLength="18.5" lengthAdjust="spacingAndGlyphs">pMM#1</text>
<text x="456.60" y="48.10" font-size="6.3" text-anchor="start" fill="#111" class="s3" textLength="18.5" lengthAdjust="spacingAndGlyphs">pMM#2</text>
<text x="456.60" y="56.20" font-size="6.3" text-anchor="start" fill="#111" class="s3" textLength="18.5" lengthAdjust="spacingAndGlyphs">pMM#3</text>
<text x="381.80" y="163.70" font-size="8.8" text-anchor="start" fill="#1a1a1a" class="s3" textLength="124" lengthAdjust="spacingAndGlyphs">Plasma cell leukemia + BMSCs</text>
<line x1="374.60" y1="165.60" x2="374.60" y2="279.60" stroke="#000" stroke-width="1.3"/>
<line x1="374.00" y1="279.00" x2="512.20" y2="279.00" stroke="#000" stroke-width="1.3"/>
<line x1="372.20" y1="279.00" x2="374.60" y2="279.00" stroke="#000" stroke-width="1.0"/>
<text x="370.50" y="281.10" font-size="7.2" text-anchor="end" fill="#333" textLength="3.9" lengthAdjust="spacing">0</text>
<line x1="372.20" y1="257.12" x2="374.60" y2="257.12" stroke="#000" stroke-width="1.0"/>
<text x="370.50" y="259.22" font-size="7.2" text-anchor="end" fill="#333" textLength="7.7" lengthAdjust="spacing">20</text>
<line x1="372.20" y1="235.24" x2="374.60" y2="235.24" stroke="#000" stroke-width="1.0"/>
<text x="370.50" y="237.34" font-size="7.2" text-anchor="end" fill="#333" textLength="7.7" lengthAdjust="spacing">40</text>
<line x1="372.20" y1="213.36" x2="374.60" y2="213.36" stroke="#000" stroke-width="1.0"/>
<text x="370.50" y="215.46" font-size="7.2" text-anchor="end" fill="#333" textLength="7.7" lengthAdjust="spacing">60</text>
<line x1="372.20" y1="191.48" x2="374.60" y2="191.48" stroke="#000" stroke-width="1.0"/>
<text x="370.50" y="193.58" font-size="7.2" text-anchor="end" fill="#333" textLength="7.7" lengthAdjust="spacing">80</text>
<line x1="372.20" y1="169.60" x2="374.60" y2="169.60" stroke="#000" stroke-width="1.0"/>
<text x="370.50" y="171.70" font-size="7.2" text-anchor="end" fill="#333" textLength="10.9" lengthAdjust="spacing">100</text>
<line x1="374.50" y1="279.00" x2="374.50" y2="281.20" stroke="#000" stroke-width="1.0"/>
<line x1="388.19" y1="279.00" x2="388.19" y2="281.20" stroke="#000" stroke-width="1.0"/>
<line x1="401.88" y1="279.00" x2="401.88" y2="281.20" stroke="#000" stroke-width="1.0"/>
<line x1="415.57" y1="279.00" x2="415.57" y2="281.20" stroke="#000" stroke-width="1.0"/>
<line x1="429.26" y1="279.00" x2="429.26" y2="281.20" stroke="#000" stroke-width="1.0"/>
<line x1="442.95" y1="279.00" x2="442.95" y2="281.20" stroke="#000" stroke-width="1.0"/>
<line x1="456.64" y1="279.00" x2="456.64" y2="281.20" stroke="#000" stroke-width="1.0"/>
<line x1="470.33" y1="279.00" x2="470.33" y2="281.20" stroke="#000" stroke-width="1.0"/>
<line x1="484.02" y1="279.00" x2="484.02" y2="281.20" stroke="#000" stroke-width="1.0"/>
<line x1="497.71" y1="279.00" x2="497.71" y2="281.20" stroke="#000" stroke-width="1.0"/>
<line x1="511.40" y1="279.00" x2="511.40" y2="281.20" stroke="#000" stroke-width="1.0"/>
<text x="374.50" y="289.00" font-size="6.9" text-anchor="middle" fill="#222">0</text>
<text x="388.19" y="289.00" font-size="6.9" text-anchor="middle" fill="#222">0.1</text>
<text x="401.88" y="289.00" font-size="6.9" text-anchor="middle" fill="#222">0.2</text>
<text x="415.57" y="289.00" font-size="6.9" text-anchor="middle" fill="#222">0.3</text>
<text x="429.26" y="289.00" font-size="6.9" text-anchor="middle" fill="#222">0.4</text>
<text x="442.95" y="289.00" font-size="6.9" text-anchor="middle" fill="#222">0.5</text>
<text x="456.64" y="289.00" font-size="6.9" text-anchor="middle" fill="#222">0.6</text>
<text x="484.02" y="289.00" font-size="6.9" text-anchor="middle" fill="#222">0.8</text>
<text x="511.40" y="289.00" font-size="6.9" text-anchor="middle" fill="#222">1.0</text>
<text x="443.80" y="295.70" font-size="8.0" text-anchor="middle" fill="#1a1a1a" class="s3" textLength="52.8" lengthAdjust="spacingAndGlyphs">17-DMAG (μM)</text>
<text x="357.40" y="226.40" font-size="7.8" text-anchor="middle" fill="#222" class="s3" textLength="48.5" lengthAdjust="spacingAndGlyphs" transform="rotate(-90 357.40 226.40)">% viable cells</text>
<path d="M374.50,170.52 L375.19,170.59 L375.88,170.79 L376.56,171.11 L377.25,171.55 L377.94,172.10 L378.63,172.76 L379.32,173.52 L380.00,174.38 L380.69,175.34 L381.38,176.40 L382.07,177.54 L382.76,178.76 L383.44,180.07 L384.13,181.45 L384.82,182.90 L385.51,184.42 L386.19,186.00 L386.88,187.64 L387.57,189.33 L388.26,191.07 L388.95,192.85 L389.63,194.68 L390.32,196.53 L391.01,198.42 L391.70,200.33 L392.39,202.26 L393.07,204.20 L393.76,206.16 L394.45,208.12 L395.14,210.09 L395.83,212.06 L396.51,214.02 L397.20,215.97 L397.89,217.91 L398.58,219.83 L399.27,221.74 L399.95,223.62 L400.64,225.48 L401.33,227.32 L402.02,229.12 L402.71,230.89 L403.39,232.63 L404.08,234.33 L404.77,236.00 L405.46,237.62 L406.15,239.21 L406.83,240.75 L407.52,242.25 L408.21,243.71 L408.90,245.13 L409.58,246.50 L410.27,247.83 L410.96,249.11 L411.65,250.35 L412.34,251.54 L413.02,252.69 L413.71,253.80 L414.40,254.86 L415.09,255.88 L415.78,256.85 L416.46,257.78 L417.15,258.68 L417.84,259.53 L418.53,260.34 L419.22,261.11 L419.90,261.85 L420.59,262.55 L421.28,263.22 L421.97,263.85 L422.66,264.44 L423.34,265.01 L424.03,265.54 L424.72,266.05 L425.41,266.52 L426.10,266.97 L426.78,267.39 L427.47,267.79 L428.16,268.16 L428.85,268.51 L429.54,268.84 L430.22,269.15 L430.91,269.43 L431.60,269.70 L432.29,269.95 L432.97,270.19 L433.66,270.40 L434.35,270.61 L435.04,270.79 L435.73,270.97 L436.41,271.13 L437.10,271.28 L437.79,271.42 L438.48,271.55 L439.17,271.67 L439.85,271.78 L440.54,271.88 L441.23,271.97 L441.92,272.06 L442.61,272.14 L443.29,272.21 L443.98,272.28 L444.67,272.34 L445.36,272.39 L446.05,272.44 L446.73,272.49 L447.42,272.53 L448.11,272.57 L448.80,272.61 L449.49,272.64 L450.17,272.67 L450.86,272.70 L451.55,272.72 L452.24,272.74 L452.93,272.76 L453.61,272.78 L454.30,272.80 L454.99,272.81 L455.68,272.83 L456.36,272.84 L457.05,272.85 L457.74,272.86 L458.43,272.87 L459.12,272.88 L459.80,272.88 L460.49,272.89 L461.18,272.90 L461.87,272.90 L462.56,272.91 L463.24,272.91 L463.93,272.91 L464.62,272.92 L465.31,272.92 L466.00,272.92 L466.68,272.93 L467.37,272.93 L468.06,272.93 L468.75,272.93 L469.44,272.93 L470.12,272.93 L470.81,272.93 L471.50,272.94 L472.19,272.94 L472.88,272.94 L473.56,272.94 L474.25,272.94 L474.94,272.94 L475.63,272.94 L476.32,272.94 L477.00,272.94 L477.69,272.94 L478.38,272.94 L479.07,272.94 L479.75,272.94 L480.44,272.94 L481.13,272.94 L481.82,272.94 L482.51,272.94 L483.19,272.94 L483.88,272.94 L484.57,272.94 L485.26,272.94 L485.95,272.94 L486.63,272.94 L487.32,272.94 L488.01,272.94 L488.70,272.94 L489.39,272.94 L490.07,272.94 L490.76,272.94 L491.45,272.94 L492.14,272.94 L492.83,272.94 L493.51,272.94 L494.20,272.94 L494.89,272.94 L495.58,272.94 L496.27,272.94 L496.95,272.94 L497.64,272.94 L498.33,272.94 L499.02,272.94 L499.71,272.94 L500.39,272.94 L501.08,272.94 L501.77,272.94 L502.46,272.94 L503.14,272.94 L503.83,272.94 L504.52,272.94 L505.21,272.94 L505.90,272.94 L506.58,272.94 L507.27,272.94 L507.96,272.94 L508.65,272.94 L509.34,272.94 L510.02,272.94 L510.71,272.94 L511.40,272.94" fill="none" stroke="#000" stroke-width="1.4"/>
<line x1="388.50" y1="195.00" x2="388.50" y2="201.90" stroke="#333" stroke-width="0.9"/>
<line x1="387.30" y1="195.00" x2="389.70" y2="195.00" stroke="#333" stroke-width="0.9"/>
<line x1="387.30" y1="201.90" x2="389.70" y2="201.90" stroke="#333" stroke-width="0.9"/>
<line x1="402.20" y1="216.20" x2="402.20" y2="232.20" stroke="#555" stroke-width="0.9"/>
<line x1="401.00" y1="216.20" x2="403.40" y2="216.20" stroke="#555" stroke-width="0.9"/>
<line x1="401.00" y1="232.20" x2="403.40" y2="232.20" stroke="#555" stroke-width="0.9"/>
<line x1="415.60" y1="250.40" x2="415.60" y2="267.90" stroke="#555" stroke-width="0.9"/>
<line x1="414.40" y1="250.40" x2="416.80" y2="250.40" stroke="#555" stroke-width="0.9"/>
<line x1="414.40" y1="267.90" x2="416.80" y2="267.90" stroke="#555" stroke-width="0.9"/>
<line x1="429.20" y1="266.40" x2="429.20" y2="271.90" stroke="#333" stroke-width="0.9"/>
<line x1="428.00" y1="266.40" x2="430.40" y2="266.40" stroke="#333" stroke-width="0.9"/>
<line x1="428.00" y1="271.90" x2="430.40" y2="271.90" stroke="#333" stroke-width="0.9"/>
<line x1="456.60" y1="267.60" x2="456.60" y2="271.90" stroke="#333" stroke-width="0.9"/>
<line x1="455.40" y1="267.60" x2="457.80" y2="267.60" stroke="#333" stroke-width="0.9"/>
<line x1="455.40" y1="271.90" x2="457.80" y2="271.90" stroke="#333" stroke-width="0.9"/>
<circle cx="374.50" cy="169.80" r="1.4" fill="#000"/>
<path d="M379.7,173.6 L383.3,173.6 L381.5,176.9Z" fill="#000"/>
<rect x="387.3" y="196.8" width="2.4" height="2.4" fill="#000"/>
<rect x="401.0" y="223.5" width="2.4" height="2.4" fill="#000"/>
<circle cx="415.60" cy="258.30" r="1.2" fill="#000"/>
<circle cx="429.20" cy="268.50" r="1.2" fill="#000"/>
<rect x="455.4" y="268.3" width="2.4" height="2.4" fill="#000"/>
<circle cx="483.80" cy="273.50" r="1.2" fill="#000"/>
<circle cx="511.40" cy="273.00" r="1.2" fill="#000"/>
</svg>
</body></html>
